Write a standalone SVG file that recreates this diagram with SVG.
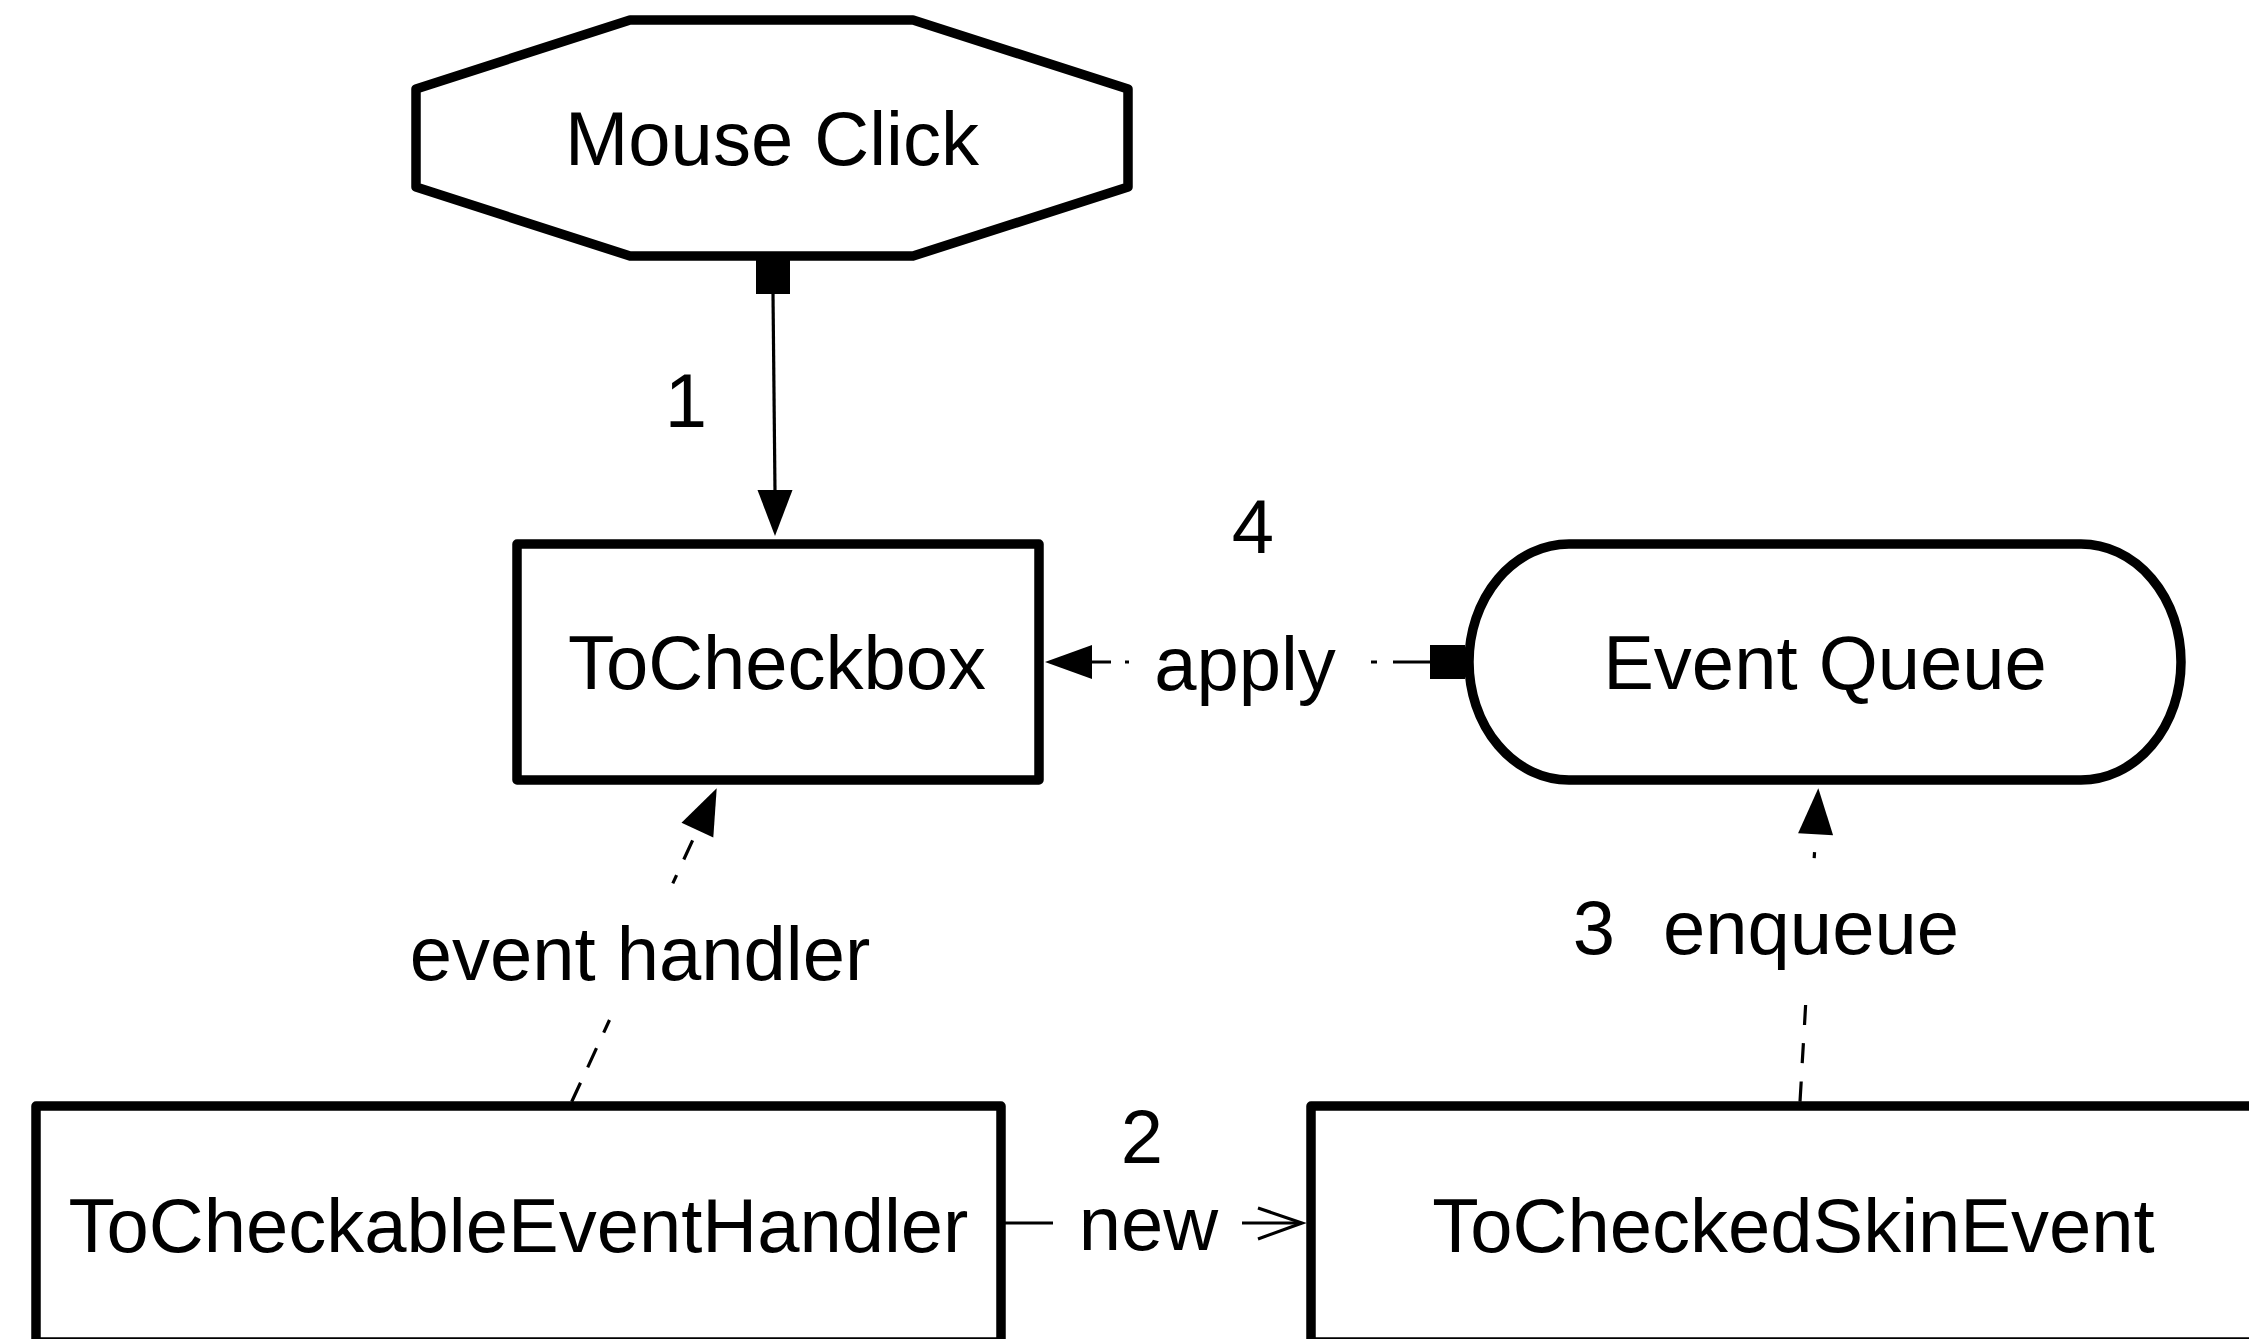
<svg xmlns="http://www.w3.org/2000/svg" width="2249" height="1339" viewBox="0 0 2249 1339">
  <style>
    .node { fill: #ffffff; stroke: #000000; stroke-width: 9.5; stroke-linejoin: round; }
    .txt { font-family: "Liberation Sans", Arial, Helvetica, sans-serif; font-size: 76px; fill: #000000; text-anchor: middle; }
    .edge { fill: none; stroke: #000000; stroke-width: 3.2; stroke-linecap: butt; }
    .head { fill: #000000; stroke: none; }
  </style>
  <rect x="0" y="0" width="2249" height="1339" fill="#ffffff"/>

  <g id="connectors">
    <g id="e1-mouse-to-checkbox">
      <rect class="head" x="756" y="260" width="34" height="34"/>
      <line class="edge" x1="773" y1="294" x2="775" y2="492"/>
      <polygon class="head" points="775,536 757.5,490 792.5,490"/>
      <text class="txt" x="686" y="427">1</text>
    </g>
    <g id="e2-handler-to-skinevent">
      <line class="edge" x1="1005" y1="1223" x2="1053" y2="1223"/>
      <line class="edge" x1="1242" y1="1223" x2="1301" y2="1223"/>
      <polyline class="edge" points="1258,1208 1302,1223 1258,1239"/>
      <text class="txt" x="1142" y="1163">2</text>
      <text class="txt" x="1148.5" y="1250">new</text>
    </g>
    <g id="e3-skinevent-to-queue">
      <path class="edge" d="M1814.55,852.2 L1814.2,858.2 M1805.6,1005 L1804.5,1025 M1803.4,1043.2 L1802.2,1063.2 M1801.2,1081.5 L1800,1101.7"/>
      <polygon class="head" points="1818.3,788.3 1833.1,835.2 1798.1,833.2"/>
      <text class="txt" x="1594" y="954">3</text>
      <text class="txt" x="1811" y="954">enqueue</text>
    </g>
    <g id="e4-queue-to-checkbox">
      <rect class="head" x="1430" y="645" width="35" height="34"/>
      <path class="edge" d="M1430,662 L1393,662 M1377,662 L1371,662 M1129,662 L1125,662 M1111,662 L1090,662"/>
      <polygon class="head" points="1045,662 1092,645 1092,679"/>
      <text class="txt" x="1253" y="553">4</text>
      <text class="txt" x="1245" y="690">apply</text>
    </g>
    <g id="e5-handler-to-checkbox">
      <path class="edge" d="M571.7,1101.7 L580.5,1082.8 M587.7,1067.3 L596.5,1048.2 M603.7,1032.6 L609.5,1020 M672.8,883.3 L676.6,875.1 M683.8,859.5 L692.6,840.4"/>
      <polygon class="head" points="716.7,788.3 713.3,837.5 681.5,822.8"/>
      <text class="txt" x="640" y="980">event handler</text>
    </g>
  </g>

  <g id="node-mouse-click">
    <polygon class="node" points="416,89 630,20 913,20 1128,89 1128,187 913,256 630,256 416,187"/>
    <text class="txt" x="772" y="165">Mouse Click</text>
  </g>

  <g id="node-tocheckbox">
    <rect class="node" x="517" y="544" width="522" height="236"/>
    <text class="txt" x="777" y="689">ToCheckbox</text>
  </g>

  <g id="node-event-queue">
    <rect class="node" x="1469" y="544" width="712" height="236" rx="100" ry="118"/>
    <text class="txt" x="1825" y="689">Event Queue</text>
  </g>

  <g id="node-tocheckable-event-handler">
    <rect class="node" x="36" y="1106" width="965" height="236"/>
    <text class="txt" x="518.5" y="1252">ToCheckableEventHandler</text>
  </g>

  <g id="node-tochecked-skin-event">
    <rect class="node" x="1311" y="1106" width="965" height="236"/>
    <text class="txt" x="1793.5" y="1252">ToCheckedSkinEvent</text>
  </g>
</svg>
